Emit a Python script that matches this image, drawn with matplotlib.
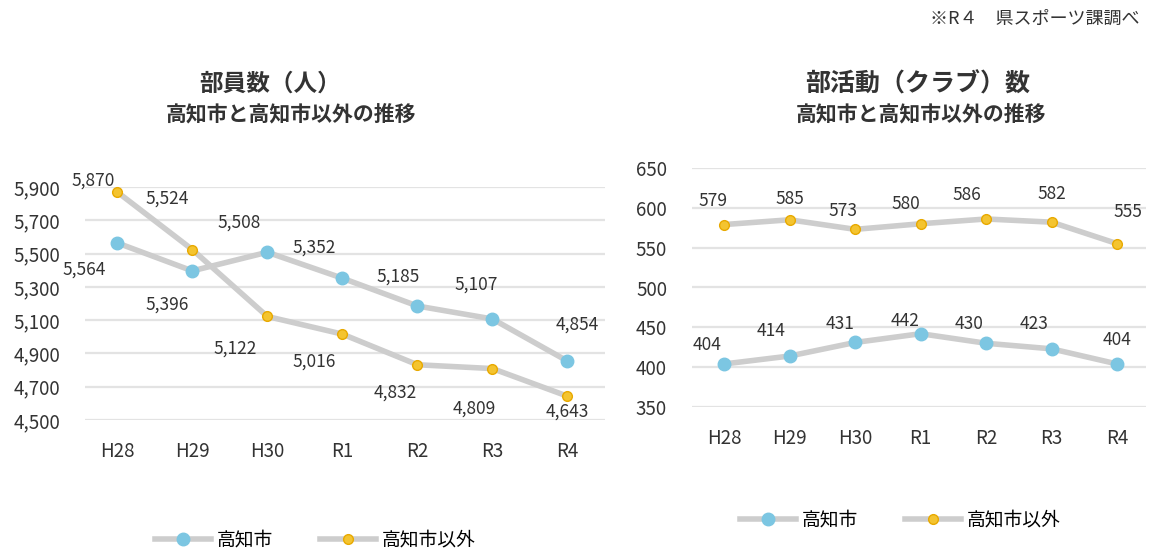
import matplotlib
matplotlib.use("Agg")
import matplotlib.pyplot as plt
from matplotlib.ticker import FuncFormatter

plt.rcParams["font.family"] = ["Noto Sans CJK JP", "DejaVu Sans"]

years = ["H28", "H29", "H30", "R1", "R2", "R3", "R4"]

# 部員数（人）
members_city = [5564, 5396, 5508, 5352, 5185, 5107, 4854]
members_other = [5870, 5524, 5122, 5016, 4832, 4809, 4643]

# 部活動（クラブ）数
clubs_city = [404, 414, 431, 442, 430, 423, 404]
clubs_other = [579, 585, 573, 580, 586, 582, 555]

series_names = ["高知市", "高知市以外"]

# label offsets in points (dx, dy)
members_city_off = [(-24, -19), (-18, -24), (-20, 21), (-20, 22), (-14, 21), (-12, 25), (7, 26)]
members_other_off = [(-17, 8), (-18, 37), (-23, -23), (-20, -20), (-16, -20), (-13, -29), (0, -11)]
clubs_city_off = [(-12, 14), (-13, 18), (-11, 13), (-11, 9), (-12, 14), (-13, 18), (0, 17)]
clubs_other_off = [(-8, 17), (0, 15), (-9, 13), (-11, 14), (-14, 17), (0, 20), (8, 23)]

LINE_C = "#cdcdcd"
BLUE = "#7cc6e2"
YELLOW = "#f4c430"
TEXT_C = "#333333"
GRID_C = "#e3e3e3"

fig = plt.figure(figsize=(11.52, 5.51), dpi=100)
fig.patch.set_facecolor("white")


def draw_panel(ax, city, other, city_off, other_off, fmt, yticks, ylim, xlim):
    x = list(range(len(years)))
    ax.plot(x, city, color=LINE_C, lw=4, marker="o", ms=9,
            markerfacecolor=BLUE, markeredgecolor=BLUE, clip_on=False, zorder=3,
            label=series_names[0])
    ax.plot(x, other, color=LINE_C, lw=4, marker="o", ms=7,
            markerfacecolor=YELLOW, markeredgecolor="#e8a900", markeredgewidth=1,
            clip_on=False, zorder=3, label=series_names[1])
    for xi, v, off in zip(x, city, city_off):
        ax.annotate(fmt(v), (xi, v), xytext=off, textcoords="offset points",
                    ha="center", va="center", fontsize=12.5, color=TEXT_C)
    for xi, v, off in zip(x, other, other_off):
        ax.annotate(fmt(v), (xi, v), xytext=off, textcoords="offset points",
                    ha="center", va="center", fontsize=12.5, color=TEXT_C)
    ax.set_xticks(x)
    ax.set_xticklabels(years, fontsize=13.5, color=TEXT_C)
    ax.set_yticks(yticks)
    ax.yaxis.set_major_formatter(FuncFormatter(lambda v, p: fmt(int(v))))
    ax.tick_params(axis="y", labelsize=13.5, labelcolor=TEXT_C, length=0, pad=18)
    ax.tick_params(axis="x", length=0, pad=15)
    ax.set_ylim(*ylim)
    ax.set_xlim(*xlim)
    ax.grid(axis="y", color=GRID_C, lw=1.6)
    ax.set_axisbelow(True)
    for s in ax.spines.values():
        s.set_visible(False)


# left panel: members
ax1 = fig.add_axes([85 / 1152, 1 - 420 / 551, 520 / 1152, 233 / 551])
draw_panel(ax1, members_city, members_other, members_city_off, members_other_off,
           lambda v: f"{v:,}", list(range(4500, 5901, 200)), (4500, 5900), (-0.43, 6.5))

# right panel: clubs
ax2 = fig.add_axes([692 / 1152, 1 - 407 / 551, 454 / 1152, 239 / 551])
draw_panel(ax2, clubs_city, clubs_other, clubs_city_off, clubs_other_off,
           lambda v: f"{v}", list(range(350, 651, 50)), (350, 650), (-0.49, 6.44))

# titles
fig.text(270 / 1152, 1 - 84 / 551, "部員数（人）", ha="center", va="center",
         fontsize=17, fontweight="bold", color=TEXT_C)
fig.text(291 / 1152, 1 - 114 / 551, "高知市と高知市以外の推移", ha="center", va="center",
         fontsize=15, fontweight="bold", color=TEXT_C)
fig.text(918 / 1152, 1 - 84 / 551, "部活動（クラブ）数", ha="center", va="center",
         fontsize=18, fontweight="bold", color=TEXT_C)
fig.text(921 / 1152, 1 - 114 / 551, "高知市と高知市以外の推移", ha="center", va="center",
         fontsize=15, fontweight="bold", color=TEXT_C)
fig.text(1140 / 1152, 1 - 19 / 551, "※R４　県スポーツ課調べ", ha="right", va="center",
         fontsize=13, color=TEXT_C)

# legends
h1, l1 = ax1.get_legend_handles_labels()
fig.legend(h1, l1, loc="center", bbox_to_anchor=(315 / 1152, 1 - 540 / 551), ncol=2,
           frameon=False, fontsize=13.5, handlelength=3, columnspacing=2.5, handletextpad=0.3)
h2, l2 = ax2.get_legend_handles_labels()
fig.legend(h2, l2, loc="center", bbox_to_anchor=(900 / 1152, 1 - 520 / 551), ncol=2,
           frameon=False, fontsize=13.5, handlelength=3, columnspacing=2.5, handletextpad=0.3)

fig.savefig("out.png", dpi=100, facecolor="white")
